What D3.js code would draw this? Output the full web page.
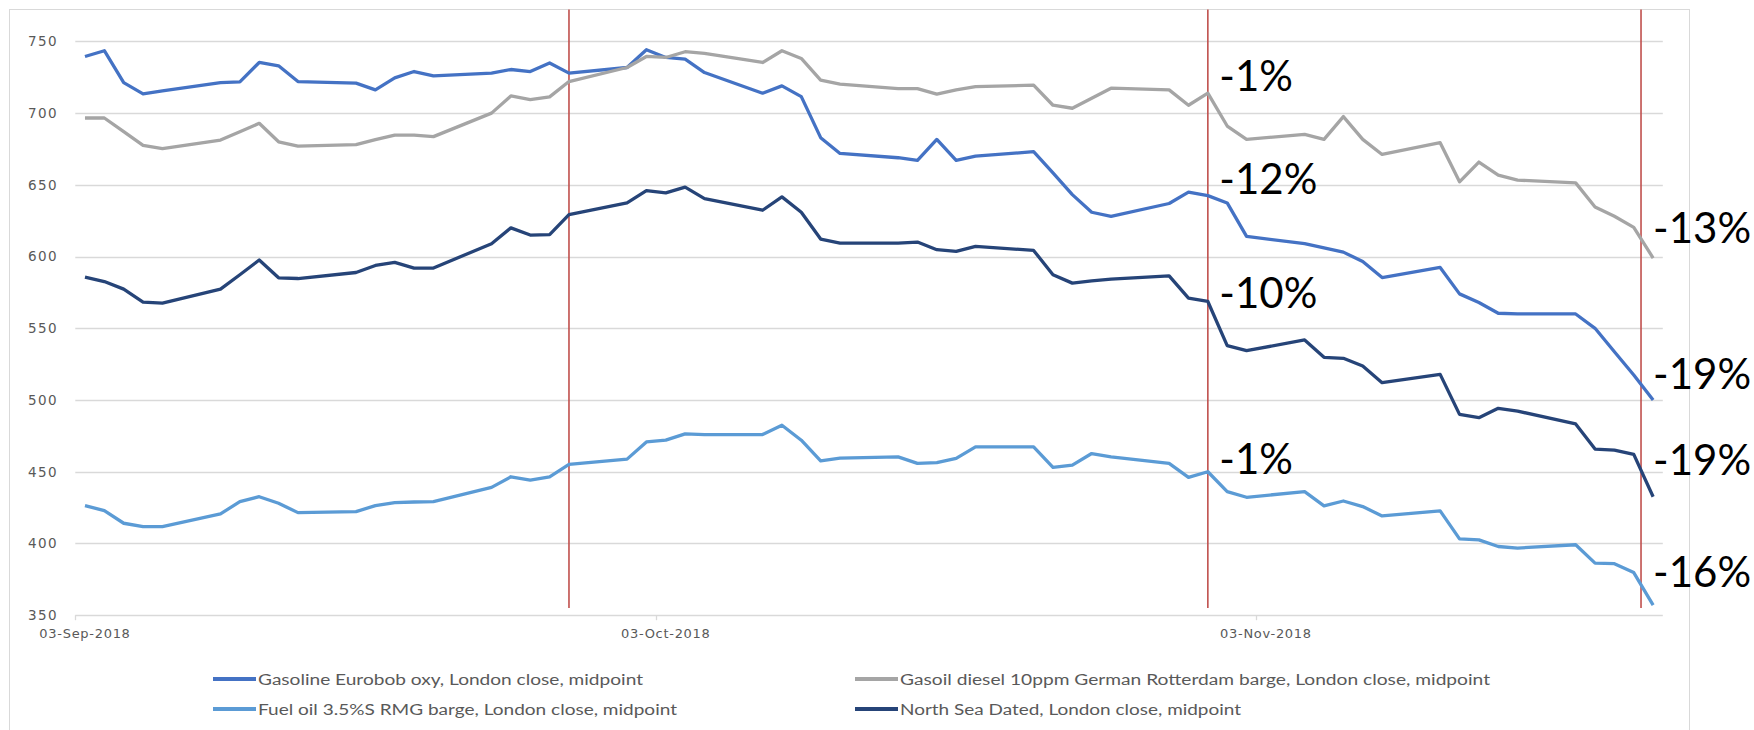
<!DOCTYPE html>
<html>
<head>
<meta charset="utf-8">
<script src="https://cdnjs.cloudflare.com/ajax/libs/d3/7.8.5/d3.min.js"></script>
<style>
  body { margin: 0; background: #fff; }
  svg { display: block; }
</style>
</head>
<body>
<script>
// business days, Sep 3 - Nov 23 2018
var dates = [
  '2018-09-03','2018-09-04','2018-09-05','2018-09-06','2018-09-07',
  '2018-09-10','2018-09-11','2018-09-12','2018-09-13','2018-09-14',
  '2018-09-17','2018-09-18','2018-09-19','2018-09-20','2018-09-21',
  '2018-09-24','2018-09-25','2018-09-26','2018-09-27','2018-09-28',
  '2018-10-01','2018-10-02','2018-10-03','2018-10-04','2018-10-05',
  '2018-10-08','2018-10-09','2018-10-10','2018-10-11','2018-10-12',
  '2018-10-15','2018-10-16','2018-10-17','2018-10-18','2018-10-19',
  '2018-10-22','2018-10-23','2018-10-24','2018-10-25','2018-10-26',
  '2018-10-29','2018-10-30','2018-10-31','2018-11-01','2018-11-02',
  '2018-11-05','2018-11-06','2018-11-07','2018-11-08','2018-11-09',
  '2018-11-12','2018-11-13','2018-11-14','2018-11-15','2018-11-16',
  '2018-11-19','2018-11-20','2018-11-21','2018-11-22','2018-11-23'
]

var gasoline = [
  739.5, 743.5, 721.3, 713.4, 715.5,
  721.3, 721.8, 735.3, 733.0, 722.0,
  720.9, 716.2, 724.6, 729.0, 726.0,
  727.9, 730.4, 729.0, 735.0, 727.9,
  731.8, 744.2, 738.8, 737.6, 728.3,
  713.9, 719.0, 711.5, 682.9, 671.9,
  668.9, 667.0, 681.7, 667.0, 670.0,
  673.1, 658.4, 643.2, 630.9, 628.1,
  637.0, 644.9, 642.5, 637.4, 614.1,
  609.0, 606.0, 603.1, 596.6, 585.4,
  592.4, 574.0, 568.0, 560.5, 560.0,
  560.0, 550.0, 533.7, 517.4, 500.0
]

var gasoil = [
  696.6, 696.6, 687.1, 677.5, 675.2,
  681.2, 687.0, 692.9, 680.0, 677.0,
  678.0, 681.5, 684.7, 684.7, 683.6,
  700.0, 712.0, 709.4, 711.3, 722.0,
  731.8, 739.5, 738.8, 742.8, 741.6,
  735.3, 743.5, 738.1, 723.0, 720.2,
  717.1, 717.1, 713.2, 716.2, 718.5,
  719.5, 705.5, 703.4, 710.4, 717.4,
  716.2, 705.5, 713.9, 691.0, 681.7,
  685.2, 681.7, 697.6, 681.7, 671.2,
  679.4, 652.1, 665.9, 656.8, 653.3,
  651.4, 634.6, 628.1, 620.4, 599.0
]

var fuelOil = [
  426.4, 422.9, 414.1, 411.8, 411.8,
  420.6, 429.2, 432.6, 428.0, 421.5,
  422.2, 426.4, 428.5, 428.9, 429.2,
  439.1, 446.5, 444.2, 446.5, 455.1,
  458.8, 470.8, 472.0, 476.4, 475.9,
  475.9, 482.4, 472.0, 457.6, 459.5,
  460.4, 455.8, 456.3, 459.3, 467.4,
  467.4, 453.0, 454.6, 462.7, 460.4,
  455.8, 446.1, 450.0, 436.1, 432.2,
  436.1, 426.2, 429.6, 425.7, 419.2,
  422.7, 403.2, 402.5, 397.9, 396.8,
  399.1, 386.3, 385.9, 379.7, 357.0
]

var northSea = [
  585.7, 582.6, 577.3, 568.2, 567.5,
  577.3, 587.3, 597.6, 585.2, 584.7,
  588.9, 593.8, 595.9, 592.0, 592.0,
  609.0, 620.0, 615.0, 615.3, 629.3,
  637.4, 646.0, 644.4, 648.4, 640.4,
  632.3, 641.6, 630.9, 612.2, 609.4,
  609.4, 610.1, 604.8, 603.6, 607.1,
  604.3, 587.3, 581.5, 583.1, 584.3,
  586.6, 571.0, 568.7, 537.9, 534.4,
  541.9, 529.8, 529.1, 523.7, 512.1,
  517.9, 490.0, 487.7, 494.2, 492.3,
  483.3, 465.8, 465.1, 462.1, 432.6
]

var seriesNames = [
  'Gasoline Eurobob oxy, London close, midpoint',
  'Gasoil diesel 10ppm German Rotterdam barge, London close, midpoint',
  'Fuel oil 3.5%S RMG barge, London close, midpoint',
  'North Sea Dated, London close, midpoint'
]
var seriesColors = ['#4472c4', '#a5a5a5', '#5b9bd5', '#264478']

var yTicks = [350, 400, 450, 500, 550, 600, 650, 700, 750]
var xTickDates = ['2018-09-03', '2018-10-03', '2018-11-03']
var xTickLabels = ['03-Sep-2018', '03-Oct-2018', '03-Nov-2018']

// month-end marker lines
var markerDates = ['2018-09-28T12:00Z', '2018-10-31T12:00Z', '2018-11-22T21:00Z']

// change labels: text and the level (price units) of their baseline
var octLabels = ['-1%', '-12%', '-10%', '-1%']
var octLevels = [715.6, 643.4, 564.0, 448.4]
var novLabels = ['-13%', '-19%', '-19%', '-16%']
var novLevels = [609.3, 507.5, 447.7, 369.9]

var width = 1754
var height = 730
var parse = d3.utcParse('%Y-%m-%d')
var day = 864e5

var svg = d3.select('body')
  .append('svg')
  .attr('width', width)
  .attr('height', height)

svg.append('rect')
  .attr('width', width).attr('height', height)
  .attr('fill', '#fff')

// chart border
svg.append('rect')
  .attr('x', 9.5).attr('y', 9.5)
  .attr('width', 1680).attr('height', 760)
  .attr('fill', 'none')
  .attr('stroke', '#d9d9d9')

var x = d3.scaleUtc()
  .domain([parse('2018-09-03'), parse('2018-11-24')])
  .range([75.3, 1662.8])

var y = d3.scaleLinear()
  .domain([350, 750])
  .range([615.2, 41.4])

// gridlines
svg.append('g').selectAll('line')
  .data(yTicks)
  .enter()
  .append('line')
  .attr('x1', x.range()[0]).attr('x2', x.range()[1])
  .attr('y1', d => Math.round(y(d)) + 0.5)
  .attr('y2', d => Math.round(y(d)) + 0.5)
  .attr('stroke', '#d9d9d9')
  .attr('stroke-width', 1.3)

// y labels
svg.append('g').selectAll('text')
  .data(yTicks)
  .enter()
  .append('text')
  .attr('x', 58)
  .attr('y', d => y(d) + 4.8)
  .attr('text-anchor', 'end')
  .attr('font-family', 'DejaVu Sans')
  .attr('font-size', 13.5)
  .attr('letter-spacing', 1.4)
  .attr('fill', '#595959')
  .text(d => d)

// x ticks (at start of day) and labels (centred on the day)
var xt = svg.append('g')
xt.selectAll('line')
  .data(xTickDates)
  .enter()
  .append('line')
  .attr('x1', d => Math.round(x(parse(d))) + 0.5)
  .attr('x2', d => Math.round(x(parse(d))) + 0.5)
  .attr('y1', y(350)).attr('y2', y(350) + 5)
  .attr('stroke', '#d9d9d9')
  .attr('stroke-width', 1.3)

xt.selectAll('text')
  .data(xTickDates)
  .enter()
  .append('text')
  .attr('x', d => x(new Date(+parse(d) + day / 2)))
  .attr('y', 637.5)
  .attr('text-anchor', 'middle')
  .attr('font-family', 'DejaVu Sans')
  .attr('font-size', 13)
  .attr('letter-spacing', 0.7)
  .attr('fill', '#595959')
  .text((d, i) => xTickLabels[i])

// red marker lines
svg.append('g').selectAll('line')
  .data(markerDates)
  .enter()
  .append('line')
  .attr('x1', d => x(new Date(d)))
  .attr('x2', d => x(new Date(d)))
  .attr('y1', 9.5).attr('y2', 608)
  .attr('stroke', '#c0504d')
  .attr('stroke-width', 1.6)

// series
var allSeries = [gasoline, gasoil, fuelOil, northSea]
var line = d3.line()
  .x(d => x(d.date))
  .y(d => y(d.value))

var lines = svg.append('g')
allSeries.forEach(function(values, k) {
  var pts = values.map((v, i) => ({ date: new Date(+parse(dates[i]) + day / 2), value: v }))
  lines.append('path')
    .attr('d', line(pts))
    .attr('fill', 'none')
    .attr('stroke', seriesColors[k])
    .attr('stroke-width', 3.3)
    .attr('stroke-linejoin', 'round')
})

// change labels
var octX = x(new Date('2018-10-31T12:00Z')) + 11.5
var lastX = x(new Date(+parse(dates[dates.length - 1]) + day / 2))
var ann = svg.append('g')
  .attr('font-family', 'Lato')
  .attr('font-size', 42)
  .attr('fill', '#000')
ann.selectAll('text.oct')
  .data(octLabels)
  .enter()
  .append('text')
  .attr('class', 'oct')
  .attr('x', octX)
  .attr('y', (d, i) => y(octLevels[i]))
  .text(d => d)
ann.selectAll('text.nov')
  .data(novLabels)
  .enter()
  .append('text')
  .attr('class', 'nov')
  .attr('x', lastX)
  .attr('y', (d, i) => y(novLevels[i]))
  .text(d => d)

// legend, two columns
var legendX = [213, 855]
var legendY = [679, 709]
var legendW = [385, 590, 419, 341]
var legend = svg.append('g')
seriesNames.forEach(function(name, k) {
  var lx = legendX[k % 2]
  var ly = legendY[Math.floor(k / 2)]
  legend.append('line')
    .attr('x1', lx).attr('x2', lx + 43)
    .attr('y1', ly).attr('y2', ly)
    .attr('stroke', seriesColors[k])
    .attr('stroke-width', 4)
  legend.append('text')
    .attr('x', lx + 45)
    .attr('y', ly + 5.5)
    .attr('font-family', 'Lato')
    .attr('font-size', 15.5)
    .attr('fill', '#595959')
    .attr('textLength', legendW[k])
    .attr('lengthAdjust', 'spacingAndGlyphs')
    .text(name)
})
</script>
</body>
</html>
